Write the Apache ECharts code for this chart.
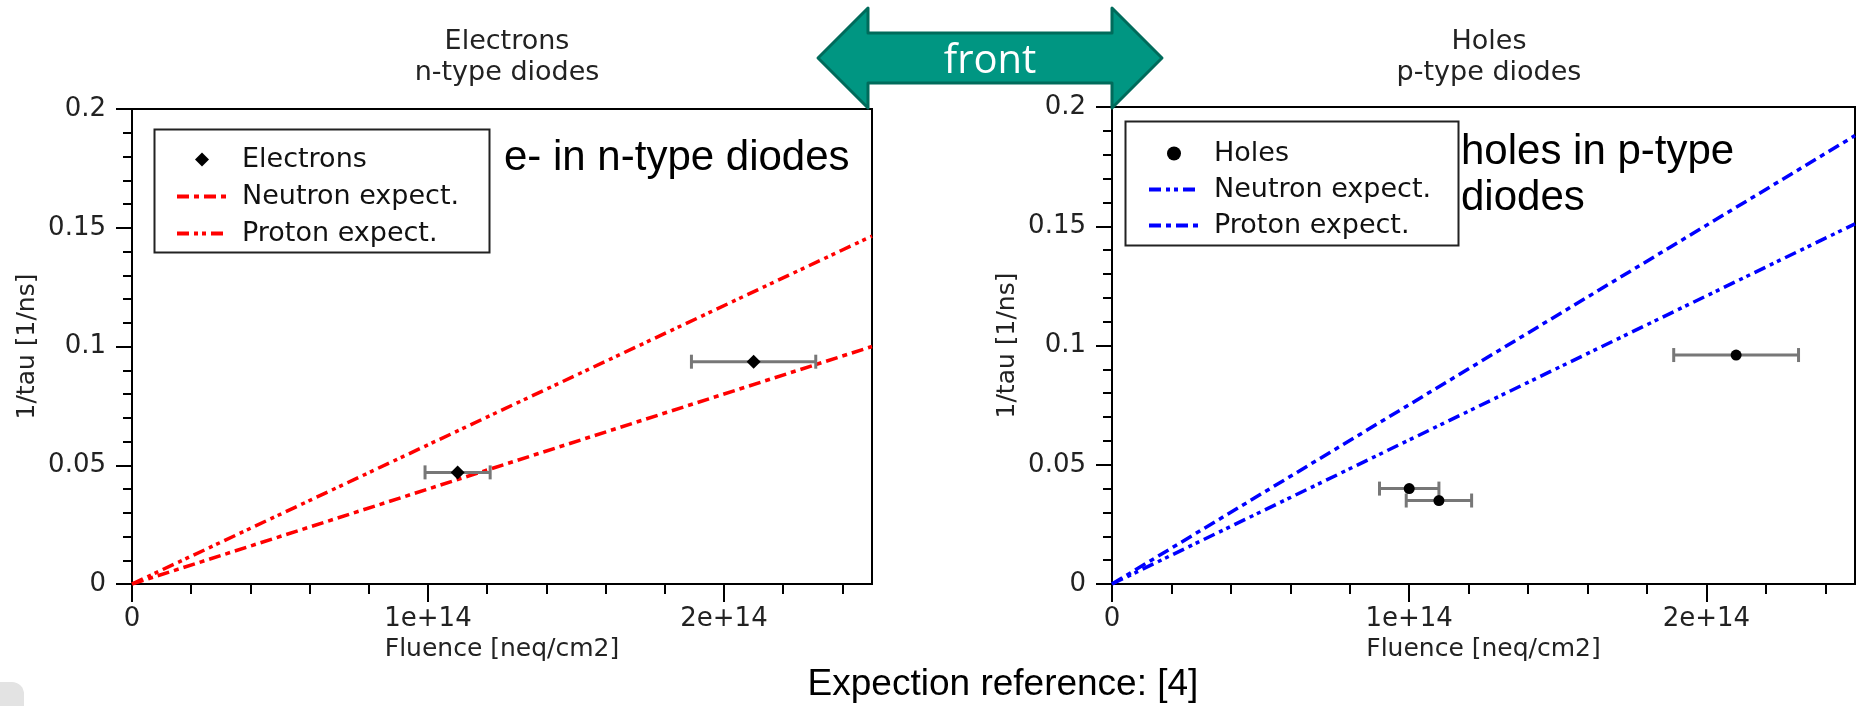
<!DOCTYPE html>
<html>
<head>
<meta charset="utf-8">
<script src="https://cdn.jsdelivr.net/npm/echarts@6/dist/echarts.min.js"></script>
<style>
  html, body { margin: 0; padding: 0; background: #fff; }
  #chart { width: 1858px; height: 706px; }
</style>
</head>
<body>
<div id="chart"></div>
<script>
// values
const xMax = 2.5e14
const majorTicks = [0, 1e14, 2e14]
const minorTicks = [0, 2e13, 4e13, 6e13, 8e13, 1e14, 1.2e14, 1.4e14, 1.6e14, 1.8e14, 2e14, 2.2e14, 2.4e14]

// [fluence, 1/tau, fluence error]
const electrons = [[1.1e14, 0.047, 1.1e13], [2.1e14, 0.0936, 2.1e13]]
const holes = [[1.0e14, 0.040, 1.0e13], [1.1e14, 0.035, 1.1e13], [2.1e14, 0.096, 2.1e13]]

// expectation lines, from origin to end of axis
const eNeutron = [[0, 0], [xMax, 0.1]]
const eProton = [[0, 0], [xMax, 0.1465]]
const hNeutron = [[0, 0], [xMax, 0.151]]
const hProton = [[0, 0], [xMax, 0.188]]

const legendNames = {
  eNeutron: 'Neutron expect.', eProton: 'Proton expect.',
  hNeutron: 'Neutron expect.', hProton: 'Proton expect.'
}

const FONT = 'DejaVu Sans'
const dashDot = [12, 5, 5, 5]
const dashDotDot = [12, 5, 4, 4, 4, 5]

const chart = echarts.init(document.getElementById('chart'))

const fmtX = v => (v === 0 ? '0' : (v / 1e14) + 'e+14')

function xAxisPair(gridIndex) {
  const base = {
    gridIndex, type: 'value', min: 0, max: xMax,
    axisLine: { lineStyle: { color: '#000', width: 2 } },
    splitLine: { show: false }
  }
  return [
    Object.assign({}, base, {
      name: 'Fluence [neq/cm2]', nameLocation: 'middle', nameGap: 51,
      nameTextStyle: { fontFamily: FONT, fontSize: 25, color: '#222' },
      axisTick: { length: 18, lineStyle: { color: '#000', width: 2 }, customValues: majorTicks },
      axisLabel: { customValues: majorTicks, formatter: fmtX, margin: 22, fontFamily: FONT, fontSize: 26, color: '#222' }
    }),
    Object.assign({}, base, {
      position: 'bottom',
      axisLine: { show: false },
      axisTick: { length: 10, lineStyle: { color: '#000', width: 2 }, customValues: minorTicks },
      axisLabel: { show: false }
    })
  ]
}

function yAxis(gridIndex) {
  return {
    gridIndex, type: 'value', min: 0, max: 0.2, interval: 0.05,
    name: '1/tau [1/ns]', nameLocation: 'middle', nameGap: 92,
    nameTextStyle: { fontFamily: FONT, fontSize: 25, color: '#222' },
    axisLine: { show: true, lineStyle: { color: '#000', width: 2 } },
    axisTick: { show: true, length: 16, lineStyle: { color: '#000', width: 2 } },
    minorTick: { show: true, splitNumber: 5, length: 9, lineStyle: { color: '#000', width: 2 } },
    axisLabel: { margin: 26, fontFamily: FONT, fontSize: 26, color: '#222' },
    splitLine: { show: false }
  }
}

function errorBars(data, xAxisIndex, yAxisIndex) {
  return {
    type: 'custom', xAxisIndex, yAxisIndex, data, z: 3, silent: true,
    renderItem: (params, api) => {
      const x = api.value(0), y = api.value(1), e = api.value(2)
      const a = api.coord([x - e, y]), b = api.coord([x + e, y])
      const style = { stroke: '#777', lineWidth: 3 }
      return {
        type: 'group',
        children: [
          { type: 'line', shape: { x1: a[0], y1: a[1], x2: b[0], y2: b[1] }, style },
          { type: 'line', shape: { x1: a[0], y1: a[1] - 7, x2: a[0], y2: a[1] + 7 }, style },
          { type: 'line', shape: { x1: b[0], y1: b[1] - 7, x2: b[0], y2: b[1] + 7 }, style }
        ]
      }
    }
  }
}

function expectLine(name, data, color, dash, xAxisIndex, yAxisIndex) {
  return {
    type: 'line', name, data, xAxisIndex, yAxisIndex, symbol: 'none', z: 2,
    lineStyle: { color, width: 3.5, type: dash }, itemStyle: { color }
  }
}

const diamondIcon = 'path://M0,-1L1,0L0,1L-1,0Z'

function legend(marker, lines, left, top, gap) {
  const lineItems = lines.map(name => ({ name, itemStyle: { opacity: 0 }, lineStyle: { width: 4 } }))
  return {
    data: [marker].concat(lineItems), left, top, orient: 'vertical',
    itemWidth: 50, itemHeight: 14, itemGap: gap, selectedMode: false, symbolKeepAspect: true,
    formatter: n => legendNames[n] || n,
    textStyle: { fontFamily: FONT, fontSize: 27, color: '#111', padding: [0, 0, 0, 10], lineHeight: 24 }
  }
}

const bigText = (x, y, text, size, align) => ({
  type: 'text', x, y, z: 20,
  style: { text, fill: '#000', font: size + 'px "Liberation Sans", Arial, sans-serif', textAlign: align || 'left', textVerticalAlign: 'middle' }
})

const titleStyle = { fontFamily: FONT, fontSize: 27, color: '#222', fontWeight: 'normal', lineHeight: 31 }

chart.setOption({
  backgroundColor: '#fff',
  animation: false,
  title: [
    { text: 'Electrons\nn-type diodes', left: 502, top: 21, textAlign: 'center', textStyle: titleStyle },
    { text: 'Holes\np-type diodes', left: 1484, top: 21, textAlign: 'center', textStyle: titleStyle }
  ],
  grid: [
    { left: 132, top: 109, width: 740, height: 475, show: true, borderColor: '#000', borderWidth: 2 },
    { left: 1112, top: 107, width: 743, height: 477, show: true, borderColor: '#000', borderWidth: 2 }
  ],
  xAxis: xAxisPair(0).concat(xAxisPair(1)),
  yAxis: [yAxis(0), yAxis(1)],
  legend: [
    legend({ name: 'Electrons', icon: diamondIcon, itemStyle: { opacity: 1 } }, ['eNeutron', 'eProton'], 170, 141, 10),
    legend({ name: 'Holes', icon: 'circle', itemStyle: { opacity: 1 } }, ['hNeutron', 'hProton'], 1142, 135, 9)
  ],
  series: [
    expectLine('eNeutron', eNeutron, '#ff0000', dashDot, 0, 0),
    expectLine('eProton', eProton, '#ff0000', dashDotDot, 0, 0),
    errorBars(electrons, 0, 0),
    { type: 'scatter', name: 'Electrons', data: electrons, xAxisIndex: 0, yAxisIndex: 0, symbol: 'diamond', symbolSize: 14, z: 4, itemStyle: { color: '#000', opacity: 1 } },
    expectLine('hNeutron', hNeutron, '#0000ff', dashDotDot, 2, 1),
    expectLine('hProton', hProton, '#0000ff', dashDot, 2, 1),
    errorBars(holes, 2, 1),
    { type: 'scatter', name: 'Holes', data: holes, xAxisIndex: 2, yAxisIndex: 1, symbol: 'circle', symbolSize: 11, z: 4, itemStyle: { color: '#000', opacity: 1 } }
  ],
  graphic: [
    // legend frames
    { type: 'rect', left: 152, top: 127, z: 1, shape: { width: 335, height: 123 }, style: { fill: 'none', stroke: '#222', lineWidth: 2 } },
    { type: 'rect', left: 1123, top: 119, z: 1, shape: { width: 333, height: 124 }, style: { fill: 'none', stroke: '#222', lineWidth: 2 } },
    bigText(504, 158, 'e- in n-type diodes', 42),
    bigText(1461, 152, 'holes in p-type', 42),
    bigText(1461, 198, 'diodes', 42),
    bigText(1003, 685, 'Expection reference: [4]', 37, 'center'),
    // "front" double arrow
    {
      type: 'polygon', z: 30,
      shape: { points: [[818, 58], [868, 8], [868, 33], [1112, 33], [1112, 8], [1162, 58], [1112, 108], [1112, 83], [868, 83], [868, 108]] },
      style: { fill: '#009682', stroke: '#006b5b', lineWidth: 3, lineJoin: 'round' }
    },
    {
      type: 'text', x: 990, y: 62, z: 31,
      style: { text: 'front', fill: '#fff', font: '40px "Open Sans", sans-serif', textAlign: 'center', textVerticalAlign: 'middle' }
    },
    { type: 'rect', left: 0, top: 682, z: 0, shape: { width: 24, height: 24, r: [0, 12, 0, 0] }, style: { fill: '#e3e3e3' } }
  ]
})

window.addEventListener('resize', () => chart.resize())
</script>
</body>
</html>
